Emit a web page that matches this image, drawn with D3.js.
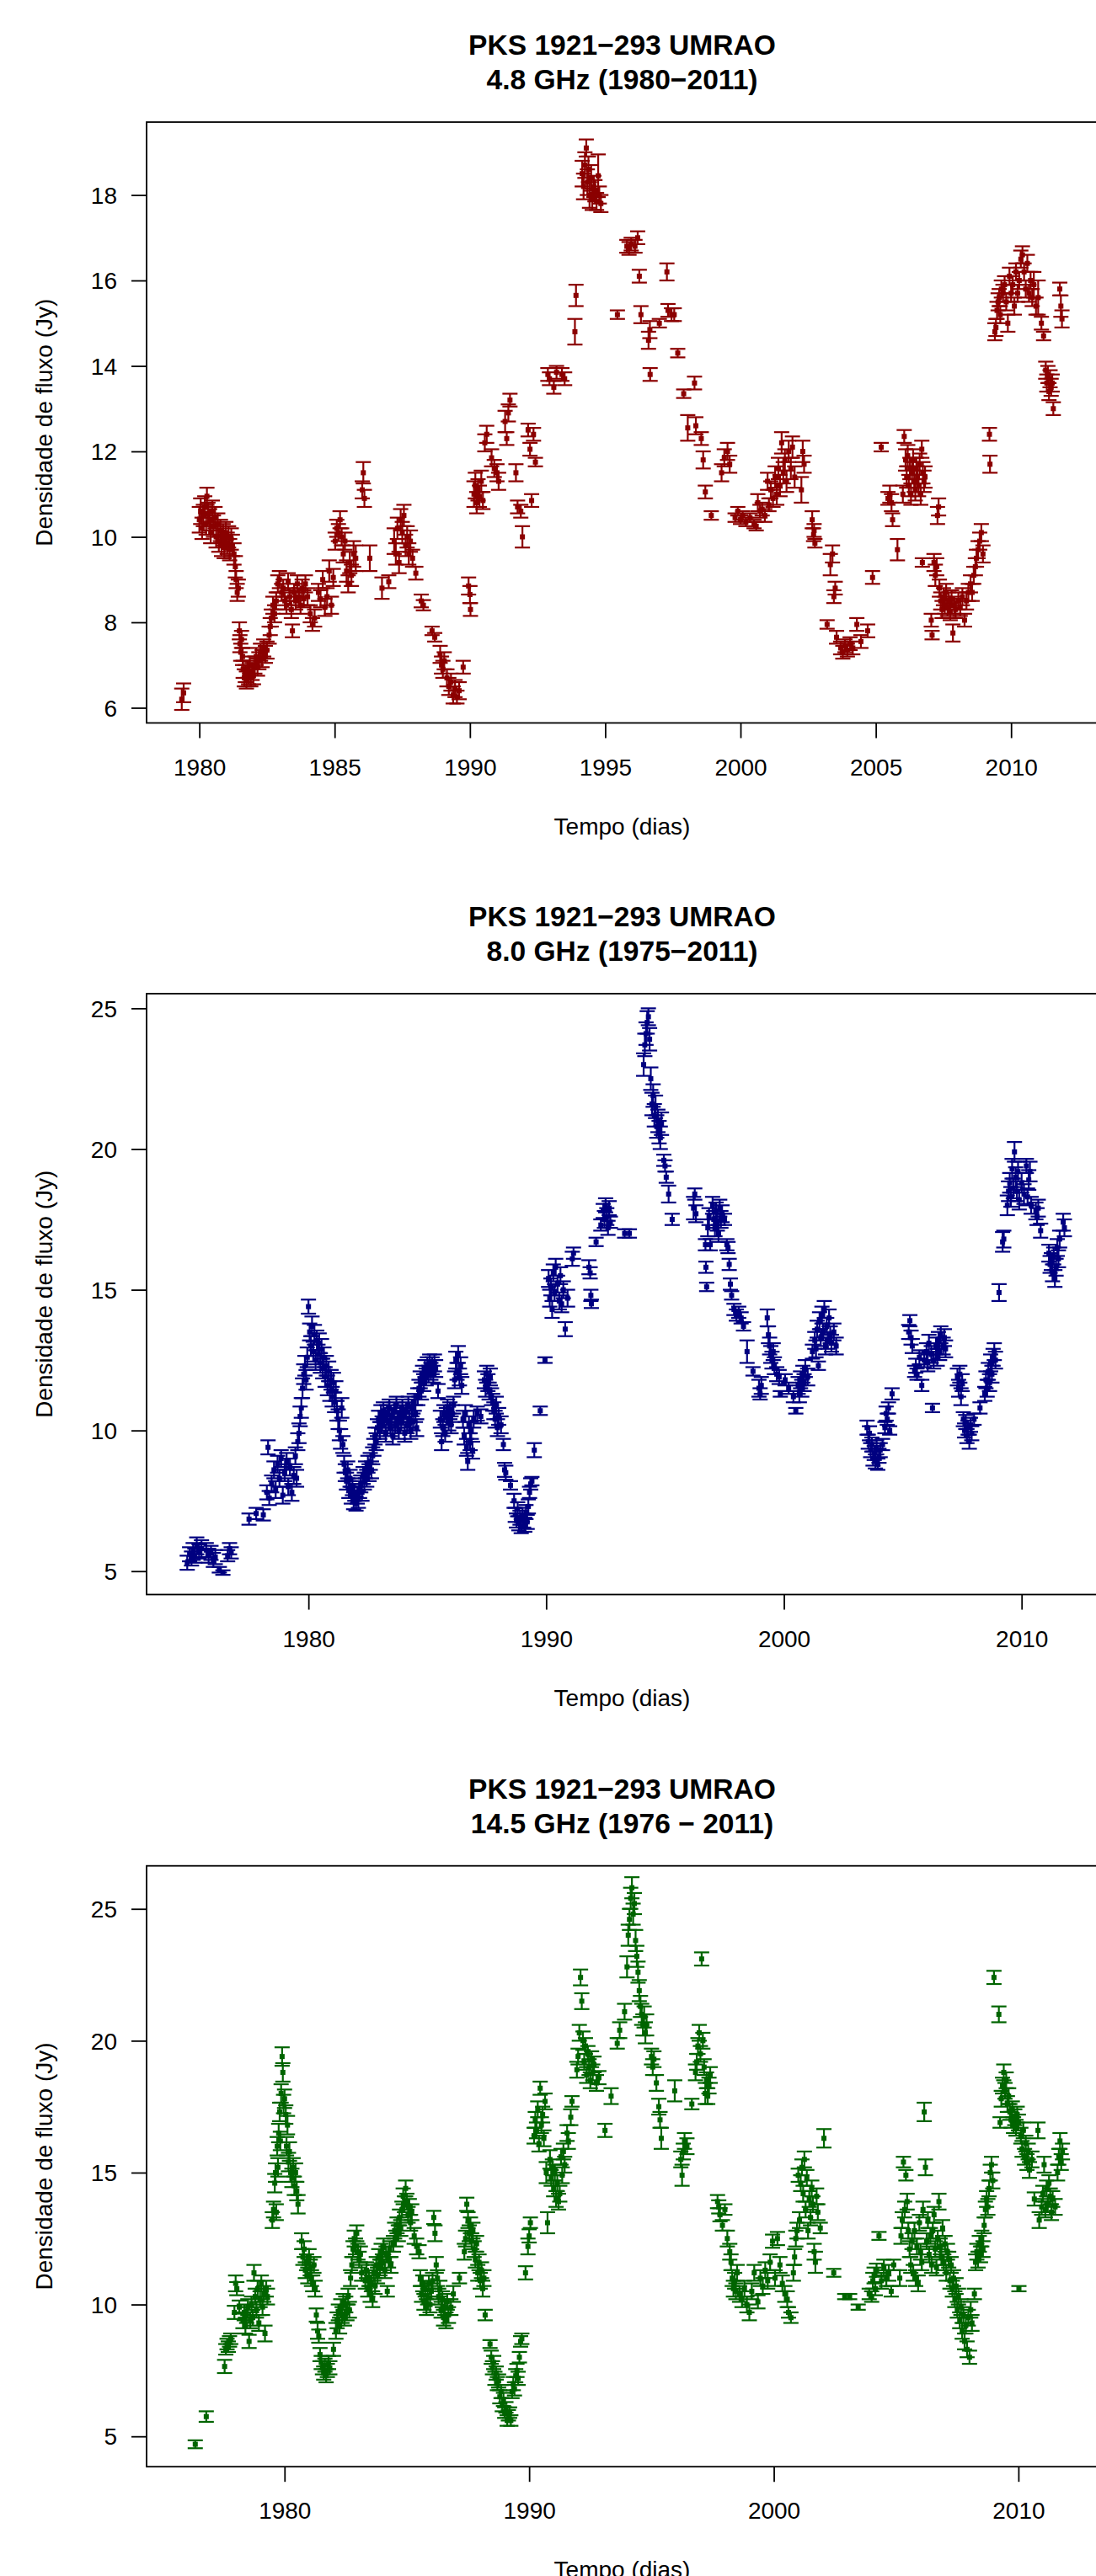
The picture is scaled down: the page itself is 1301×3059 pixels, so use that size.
<!DOCTYPE html>
<html>
<head>
<meta charset="utf-8">
<script src="https://cdn.jsdelivr.net/npm/d3@7/dist/d3.min.js"></script>
<style>
html,body{margin:0;padding:0;background:#fff;}
svg{display:block;}
text{font-family:"Liberation Sans",Arial,Helvetica,sans-serif;}
</style>
</head>
<body>
<svg id="chart" width="1301" height="3059"></svg>
<script>
// ---------- DATA: [year, flux density (Jy), error (Jy)] ----------
const flux48 = [
[1979.35,6.20,.25],[1979.42,6.35,.22],
[1980.00,10.40,.30],[1980.05,10.60,.30],[1980.10,10.20,.25],[1980.15,10.50,.25],[1980.20,10.70,.25],[1980.25,10.30,.25],[1980.28,10.95,.20],[1980.32,10.55,.25],[1980.38,10.40,.25],[1980.42,10.10,.25],[1980.48,10.60,.25],[1980.52,10.25,.25],[1980.58,10.45,.25],[1980.62,10.00,.25],[1980.68,10.30,.25],[1980.72,9.90,.25],[1980.78,10.15,.25],[1980.82,9.80,.25],[1980.88,10.05,.25],[1980.92,9.75,.25],[1980.98,10.10,.25],[1981.03,9.85,.25],[1981.08,10.00,.25],[1981.12,9.70,.25],[1981.18,9.95,.25],[1981.22,9.80,.25],[1981.28,9.60,.25],[1981.33,9.30,.25],[1981.36,9.00,.20],[1981.40,8.70,.20],[1981.44,8.80,.20],
[1981.48,7.80,.20],[1981.50,7.50,.20],[1981.53,7.30,.20],[1981.56,7.60,.20],[1981.60,7.20,.20],[1981.62,6.90,.20],[1981.66,6.70,.20],[1981.70,6.80,.20],[1981.74,6.65,.20],[1981.78,6.90,.20],[1981.82,6.75,.20],[1981.86,7.00,.20],[1981.90,6.70,.20],[1981.95,6.85,.20],[1982.00,6.75,.20],[1982.05,7.00,.20],[1982.10,7.20,.20],[1982.15,6.95,.20],[1982.20,7.10,.20],[1982.26,7.30,.20],[1982.32,7.15,.20],[1982.38,7.40,.20],[1982.44,7.25,.20],[1982.50,7.35,.20],
[1982.58,7.70,.20],[1982.62,7.90,.20],[1982.66,8.10,.20],[1982.72,8.40,.20],[1982.78,8.20,.20],[1982.84,8.50,.20],[1982.90,8.90,.20],[1982.96,9.00,.20],[1983.04,8.70,.20],[1983.10,8.80,.20],[1983.16,8.50,.20],[1983.22,8.40,.20],[1983.28,8.95,.20],[1983.34,8.60,.20],[1983.40,8.30,.20],[1983.44,7.80,.15],[1983.50,8.70,.20],[1983.56,8.50,.20],[1983.62,8.90,.20],[1983.68,8.60,.20],[1983.74,8.40,.20],[1983.80,8.80,.20],[1983.86,8.55,.20],[1983.92,8.90,.20],[1984.00,8.60,.20],[1984.10,8.20,.20],[1984.18,7.95,.15],[1984.26,8.10,.20],
[1984.40,8.70,.20],[1984.48,8.55,.20],[1984.56,9.00,.20],[1984.64,8.35,.20],[1984.72,8.60,.20],[1984.80,9.20,.25],[1984.88,8.40,.20],[1984.95,9.05,.20],[1985.02,9.90,.20],[1985.08,10.20,.20],[1985.14,10.10,.20],[1985.20,10.40,.20],[1985.26,10.00,.20],[1985.32,9.60,.20],[1985.38,9.90,.20],[1985.44,9.20,.25],[1985.50,8.90,.20],[1985.56,9.40,.25],[1985.62,9.10,.25],[1985.70,9.60,.30],[1985.78,9.50,.30],
[1986.02,11.10,.20],[1986.06,11.50,.25],[1986.10,10.90,.20],[1986.30,9.50,.30],[1986.75,8.80,.25],[1987.00,8.95,.15],
[1987.20,9.90,.30],[1987.26,9.60,.25],[1987.32,10.20,.25],[1987.38,9.40,.25],[1987.44,10.40,.25],[1987.50,10.10,.25],[1987.56,10.50,.25],[1987.62,9.80,.25],[1987.68,10.00,.25],[1987.74,9.60,.25],[1987.80,9.90,.25],[1987.88,9.50,.20],[1988.00,9.15,.15],[1988.20,8.50,.15],[1988.28,8.40,.12],[1988.60,7.80,.10],[1988.70,7.65,.10],
[1988.90,7.25,.20],[1988.95,7.00,.20],[1989.00,6.90,.20],[1989.05,7.10,.20],[1989.15,6.70,.20],[1989.22,6.50,.20],[1989.30,6.60,.20],[1989.38,6.30,.20],[1989.45,6.45,.20],[1989.52,6.25,.15],[1989.60,6.40,.20],[1989.75,6.95,.15],
[1989.95,8.85,.20],[1990.00,8.65,.20],[1990.02,8.30,.15],[1990.15,11.00,.30],[1990.20,11.20,.30],[1990.25,10.80,.25],[1990.30,11.10,.25],[1990.35,10.95,.25],[1990.42,11.30,.25],[1990.48,10.85,.20],[1990.55,12.20,.20],[1990.62,12.40,.20],[1990.80,11.85,.20],[1990.90,11.60,.20],[1991.00,11.50,.20],[1991.06,11.30,.20],
[1991.30,12.70,.25],[1991.36,12.30,.15],[1991.42,12.90,.20],[1991.48,13.20,.15],[1991.70,11.50,.20],[1991.76,10.70,.15],[1991.88,10.60,.15],[1991.94,10.00,.25],[1992.15,12.50,.15],[1992.22,12.05,.15],[1992.28,10.85,.15],[1992.35,12.40,.15],[1992.42,11.75,.10],
[1992.88,13.80,.15],[1992.94,13.70,.15],[1993.10,13.50,.15],[1993.20,13.85,.15],[1993.40,13.80,.15],[1993.50,13.70,.15],[1993.88,14.80,.30],[1993.92,15.65,.25],
[1994.15,18.50,.30],[1994.20,18.20,.30],[1994.25,18.70,.30],[1994.30,19.10,.20],[1994.34,18.30,.30],[1994.38,18.60,.30],[1994.42,18.00,.30],[1994.48,18.40,.30],[1994.52,17.90,.25],[1994.58,18.20,.25],[1994.62,18.10,.25],[1994.68,17.85,.20],[1994.74,18.45,.50],[1994.78,18.00,.20],[1994.84,17.80,.20],
[1995.45,15.20,.10],[1995.80,16.80,.15],[1995.88,16.75,.15],[1995.96,16.85,.15],[1996.10,16.80,.15],[1996.20,17.00,.15],[1996.26,16.10,.15],[1996.32,15.20,.20],[1996.60,14.60,.20],[1996.65,14.85,.20],[1996.66,13.80,.15],[1997.00,15.00,.10],[1997.28,16.20,.20],[1997.32,15.30,.15],[1997.45,15.20,.15],[1997.55,15.20,.15],[1997.68,14.30,.10],[1997.90,13.35,.10],
[1998.05,12.55,.30],[1998.30,13.60,.15],[1998.35,12.60,.20],[1998.55,12.30,.15],[1998.62,11.80,.20],[1998.70,11.05,.15],[1998.92,10.50,.10],[1999.30,11.50,.20],[1999.40,11.85,.20],[1999.52,12.00,.20],[1999.60,11.70,.20],
[1999.80,10.45,.10],[1999.90,10.60,.10],[2000.00,10.40,.10],[2000.08,10.50,.10],[2000.20,10.35,.10],[2000.35,10.45,.10],[2000.50,10.30,.10],[2000.58,10.25,.10],[2000.64,10.80,.20],[2000.72,10.60,.15],[2000.80,10.65,.15],[2000.90,10.50,.15],
[2001.00,11.30,.20],[2001.05,10.75,.15],[2001.12,11.10,.20],[2001.20,10.90,.20],[2001.28,11.40,.25],[2001.34,11.00,.25],[2001.40,11.60,.25],[2001.46,11.20,.25],[2001.52,12.20,.25],[2001.58,11.50,.25],[2001.64,11.80,.25],[2001.70,11.30,.25],[2001.78,12.00,.25],[2001.86,11.60,.25],[2001.92,12.10,.25],[2002.00,11.40,.25],[2002.25,11.10,.30],[2002.30,12.00,.25],[2002.35,11.70,.20],
[2002.65,10.40,.20],[2002.70,10.05,.15],[2002.75,9.85,.10],[2002.72,10.15,.15],[2003.20,7.95,.10],[2003.32,9.35,.25],[2003.40,9.60,.20],[2003.45,8.60,.15],[2003.50,8.80,.15],[2003.55,7.65,.15],[2003.70,7.40,.15],[2003.78,7.30,.15],[2003.86,7.45,.15],[2003.95,7.35,.15],[2004.05,7.50,.15],[2004.15,7.40,.15],[2004.30,7.95,.15],[2004.45,7.55,.15],[2004.70,7.80,.15],[2004.88,9.05,.15],
[2005.20,12.10,.10],[2005.45,10.90,.15],[2005.52,11.00,.20],[2005.58,10.80,.20],[2005.62,10.40,.15],[2005.80,9.70,.25],
[2006.00,11.00,.20],[2006.05,12.35,.15],[2006.10,11.80,.25],[2006.14,11.40,.25],[2006.18,11.90,.25],[2006.22,11.20,.25],[2006.26,11.60,.25],[2006.30,11.00,.25],[2006.34,11.50,.25],[2006.38,11.80,.25],[2006.42,11.30,.25],[2006.46,11.10,.25],[2006.50,11.60,.25],[2006.54,11.40,.25],[2006.58,11.20,.25],[2006.62,11.70,.25],[2006.66,11.00,.25],[2006.70,12.05,.20],[2006.74,11.50,.25],[2006.78,11.30,.25],[2006.82,11.40,.25],[2006.72,9.40,.10],
[2007.05,8.05,.15],[2007.08,7.70,.10],[2007.15,9.40,.20],[2007.20,9.10,.25],[2007.25,9.30,.20],[2007.28,10.50,.20],[2007.32,10.70,.20],[2007.35,8.80,.20],[2007.40,8.50,.20],[2007.45,8.30,.20],[2007.50,8.60,.20],[2007.55,8.40,.20],[2007.60,8.70,.20],[2007.65,8.35,.20],[2007.70,8.50,.20],[2007.75,8.25,.20],[2007.80,8.55,.20],[2007.85,7.75,.20],[2007.90,8.40,.20],[2007.95,8.30,.20],[2008.05,8.50,.20],[2008.12,8.35,.20],[2008.20,8.60,.20],[2008.28,8.05,.15],[2008.35,8.50,.20],[2008.42,8.70,.20],[2008.50,8.90,.20],[2008.56,8.70,.20],[2008.62,9.10,.20],[2008.68,9.30,.20],[2008.72,9.50,.20],[2008.78,9.70,.20],[2008.84,9.90,.20],[2008.90,10.10,.20],[2008.96,9.60,.20],
[2009.20,12.40,.15],[2009.22,11.70,.20],[2009.40,14.80,.20],[2009.44,14.90,.20],[2009.48,15.30,.20],[2009.52,15.50,.20],[2009.56,15.60,.20],[2009.60,15.20,.20],[2009.64,15.80,.20],[2009.70,15.70,.20],[2009.76,15.90,.20],[2009.82,15.50,.20],[2009.88,15.00,.20],[2009.94,16.10,.20],[2010.00,15.70,.20],[2010.06,15.90,.20],[2010.12,15.40,.20],[2010.18,16.20,.20],[2010.24,15.70,.20],[2010.30,16.00,.20],[2010.36,16.50,.20],[2010.42,16.60,.20],[2010.48,16.20,.20],[2010.54,15.80,.20],[2010.60,16.40,.20],[2010.66,15.70,.20],[2010.72,16.00,.20],[2010.78,15.60,.20],[2010.84,15.90,.30],[2010.92,15.40,.20],[2011.00,15.60,.40],
[2011.12,15.00,.15],[2011.20,14.70,.10],[2011.28,13.90,.20],[2011.32,13.60,.20],[2011.36,13.80,.20],[2011.40,13.40,.20],[2011.44,13.70,.20],[2011.48,13.50,.20],[2011.52,13.60,.20],[2011.56,13.00,.15],[2011.80,15.80,.15],[2011.84,15.40,.25],[2011.88,15.10,.20]
];

const flux80 = [
[1974.90,5.30,.25],[1975.00,5.60,.25],[1975.08,5.45,.25],[1975.15,5.70,.30],[1975.22,5.55,.25],[1975.30,5.90,.30],[1975.40,5.70,.25],[1975.50,5.80,.30],[1975.70,5.75,.25],[1975.80,5.55,.25],[1975.90,5.65,.25],[1976.00,5.40,.25],[1976.08,5.50,.25],[1976.25,5.05,.10],[1976.40,4.95,.08],[1976.60,5.55,.20],[1976.68,5.80,.20],[1976.75,5.65,.20],
[1977.50,6.85,.20],[1977.80,7.05,.20],[1978.10,7.00,.20],[1978.25,7.80,.25],[1978.30,9.40,.25],[1978.35,7.60,.25],[1978.45,8.10,.30],[1978.55,8.60,.30],[1978.62,7.90,.30],[1978.70,8.80,.30],[1978.78,8.30,.30],[1978.85,9.00,.30],[1978.92,7.70,.30],[1979.00,8.50,.30],[1979.08,8.90,.30],[1979.15,8.00,.30],[1979.22,8.70,.30],[1979.30,7.80,.30],[1979.38,8.40,.30],[1979.45,9.10,.30],[1979.50,8.30,.30],
[1979.55,9.60,.30],[1979.60,9.90,.35],[1979.65,10.50,.35],[1979.70,10.80,.35],[1979.75,11.50,.35],[1979.80,12.00,.35],[1979.85,12.30,.35],[1979.90,11.80,.35],[1979.95,12.60,.35],[1980.00,14.40,.25],[1980.05,13.50,.30],[1980.10,13.00,.35],[1980.15,13.70,.35],[1980.20,12.80,.35],[1980.25,13.40,.35],[1980.30,12.50,.35],[1980.35,13.20,.35],[1980.40,12.70,.35],[1980.45,13.10,.35],[1980.50,12.40,.35],[1980.55,12.90,.35],[1980.60,12.20,.35],[1980.65,12.60,.35],[1980.70,11.90,.35],[1980.75,12.30,.35],[1980.80,11.60,.35],[1980.85,12.10,.35],[1980.90,11.40,.35],[1980.95,11.80,.35],[1981.00,11.20,.35],[1981.05,11.70,.35],[1981.10,11.00,.35],[1981.15,11.40,.35],[1981.20,10.70,.35],[1981.25,10.40,.35],[1981.30,10.00,.35],[1981.35,9.70,.35],[1981.40,10.80,.35],[1981.45,9.50,.30],
[1981.50,8.80,.30],[1981.55,8.50,.30],[1981.60,8.20,.30],[1981.65,8.60,.30],[1981.70,7.90,.30],[1981.75,8.30,.30],[1981.80,7.70,.30],[1981.85,8.00,.30],[1981.90,7.50,.30],[1981.95,7.80,.30],[1982.00,7.40,.25],[1982.05,7.70,.30],[1982.10,7.55,.30],[1982.15,7.90,.30],[1982.20,8.10,.30],[1982.25,7.80,.30],[1982.30,8.40,.30],[1982.35,8.20,.30],[1982.40,8.60,.30],[1982.45,8.30,.30],[1982.50,8.80,.30],[1982.55,8.50,.30],[1982.60,8.90,.30],[1982.65,8.60,.30],[1982.70,9.10,.30],[1982.75,9.40,.30],[1982.80,9.80,.30],[1982.85,9.60,.30],[1982.90,10.10,.30],[1982.95,10.40,.30],
[1983.00,10.00,.30],[1983.05,10.60,.30],[1983.10,10.20,.30],[1983.15,10.70,.30],[1983.20,10.40,.30],[1983.25,9.90,.30],[1983.30,10.60,.30],[1983.35,10.30,.30],[1983.40,10.80,.30],[1983.45,10.10,.30],[1983.50,10.50,.30],[1983.55,9.80,.30],[1983.60,10.70,.30],[1983.65,10.20,.30],[1983.70,10.90,.30],[1983.75,10.40,.30],[1983.80,10.00,.30],[1983.85,10.60,.30],[1983.90,10.30,.30],[1983.95,10.80,.30],[1984.00,10.50,.30],[1984.05,9.90,.30],[1984.10,10.70,.30],[1984.15,10.20,.30],[1984.20,10.90,.30],[1984.25,10.40,.30],[1984.30,10.00,.30],[1984.35,10.80,.30],[1984.40,10.30,.30],[1984.45,11.00,.30],[1984.50,10.60,.30],[1984.55,10.10,.30],
[1984.60,11.20,.30],[1984.65,11.50,.30],[1984.70,11.80,.30],[1984.75,11.40,.30],[1984.80,12.00,.30],[1984.85,11.70,.30],[1984.90,12.20,.30],[1984.95,11.90,.30],[1985.00,12.30,.30],[1985.05,12.00,.30],[1985.10,12.40,.30],[1985.15,12.10,.30],[1985.20,12.30,.30],[1985.25,12.00,.30],[1985.30,12.40,.30],[1985.35,12.20,.30],[1985.45,11.40,.25],
[1985.55,10.40,.30],[1985.60,9.60,.30],[1985.65,10.10,.30],[1985.70,10.60,.30],[1985.75,9.90,.30],[1985.80,10.50,.30],[1985.85,10.80,.30],[1985.90,10.30,.30],[1985.95,10.70,.30],[1986.00,10.20,.30],[1986.05,10.60,.30],[1986.10,10.90,.30],[1986.15,11.80,.30],[1986.20,12.50,.30],[1986.25,12.10,.30],[1986.30,12.70,.30],[1986.35,11.90,.30],[1986.40,12.30,.30],[1986.45,11.60,.30],
[1986.50,10.40,.30],[1986.55,9.80,.30],[1986.60,10.60,.30],[1986.65,9.40,.30],[1986.70,8.90,.30],[1986.75,10.20,.30],[1986.80,9.60,.30],[1986.85,10.00,.30],[1986.90,9.30,.30],[1986.95,10.40,.30],[1987.10,10.60,.25],[1987.25,10.50,.25],
[1987.40,11.80,.30],[1987.45,11.50,.30],[1987.50,12.00,.30],[1987.55,11.70,.30],[1987.60,11.40,.30],[1987.65,11.90,.30],[1987.70,11.20,.30],[1987.75,11.00,.30],[1987.80,10.70,.30],[1987.85,10.40,.30],[1987.90,10.90,.30],[1987.95,10.10,.30],[1988.00,10.50,.30],[1988.10,10.20,.30],[1988.20,9.50,.20],[1988.25,8.60,.25],[1988.30,8.50,.25],[1988.50,8.05,.15],
[1988.65,7.50,.25],[1988.70,7.00,.25],[1988.75,6.80,.25],[1988.80,7.20,.25],[1988.85,6.70,.25],[1988.90,6.90,.25],[1988.95,6.60,.25],[1989.00,7.00,.25],[1989.05,6.80,.25],[1989.10,6.65,.25],[1989.15,7.10,.25],[1989.20,6.75,.25],[1989.25,7.30,.25],[1989.30,7.80,.20],[1989.35,8.10,.20],[1989.40,8.20,.15],[1989.50,9.30,.25],[1989.75,10.70,.15],[1989.95,12.50,.10],
[1990.10,15.40,.30],[1990.15,14.70,.30],[1990.20,15.10,.30],[1990.25,14.30,.30],[1990.30,15.60,.30],[1990.35,14.90,.30],[1990.40,15.80,.30],[1990.48,15.20,.30],[1990.55,14.60,.30],[1990.60,15.50,.30],[1990.65,14.50,.30],[1990.72,15.00,.30],[1990.80,13.60,.25],[1990.90,14.70,.30],[1991.10,16.10,.25],[1991.15,16.30,.20],[1991.80,15.80,.25],[1991.85,15.60,.20],[1991.88,14.80,.20],[1991.90,14.50,.15],
[1992.10,16.70,.15],[1992.30,17.30,.20],[1992.40,17.80,.25],[1992.45,17.50,.30],[1992.50,18.00,.25],[1992.55,17.60,.30],[1992.60,17.20,.25],[1992.65,17.90,.25],[1992.70,17.40,.20],[1993.30,17.00,.15],[1993.50,17.00,.15],
[1994.10,23.00,.40],[1994.15,23.70,.40],[1994.20,24.10,.40],[1994.25,24.50,.40],[1994.30,24.70,.30],[1994.35,23.90,.40],[1994.40,22.50,.40],[1994.45,21.60,.40],[1994.50,21.90,.40],[1994.55,21.20,.40],[1994.60,21.50,.40],[1994.65,20.80,.40],[1994.70,21.00,.40],[1994.75,20.60,.40],[1994.80,20.40,.40],[1994.85,20.90,.40],[1994.95,19.60,.20],[1995.00,19.40,.20],[1995.05,19.00,.20],[1995.15,18.40,.30],[1995.30,17.50,.20],
[1996.20,17.90,.40],[1996.25,18.40,.20],[1996.30,17.70,.30],[1996.70,16.60,.20],[1996.72,15.80,.20],[1996.75,15.10,.15],[1996.80,17.20,.30],[1996.85,17.60,.30],[1996.90,16.60,.20],[1997.00,18.00,.30],[1997.05,17.50,.30],[1997.10,17.20,.30],[1997.15,17.80,.30],[1997.20,17.40,.30],[1997.25,17.00,.30],[1997.30,17.90,.30],[1997.35,17.50,.30],[1997.40,17.70,.30],[1997.50,17.50,.20],[1997.60,16.60,.20],[1997.65,16.50,.20],[1997.70,15.90,.20],[1997.75,15.20,.20],[1997.80,14.80,.15],
[1997.90,14.30,.20],[1998.00,14.10,.20],[1998.10,14.20,.20],[1998.20,14.00,.20],[1998.30,13.70,.15],[1998.45,12.80,.40],[1998.70,12.10,.15],[1998.95,11.50,.30],[1999.00,11.30,.20],[1999.05,11.60,.30],[1999.30,14.00,.30],[1999.35,13.40,.30],[1999.40,13.00,.30],[1999.45,12.70,.30],[1999.50,12.50,.30],[1999.55,12.80,.30],[1999.60,12.30,.30],[1999.70,12.00,.25],[1999.80,11.90,.25],[1999.85,11.30,.10],
[2000.05,11.80,.20],[2000.20,11.50,.20],[2000.40,11.20,.20],[2000.50,10.70,.10],[2000.60,11.60,.30],[2000.65,11.30,.30],[2000.70,11.80,.30],[2000.75,11.50,.30],[2000.80,12.00,.30],[2000.85,11.70,.30],[2000.90,12.20,.30],[2001.00,11.90,.30],[2001.20,12.80,.25],[2001.30,13.20,.30],[2001.35,12.90,.30],[2001.40,13.60,.30],[2001.45,12.30,.15],[2001.50,13.90,.30],[2001.55,13.30,.30],[2001.60,14.10,.30],[2001.65,13.50,.30],[2001.70,14.30,.30],[2001.75,13.00,.30],[2001.80,13.70,.30],[2001.85,13.20,.30],[2001.90,14.00,.30],[2001.95,13.40,.30],[2002.00,13.10,.30],[2002.10,13.50,.30],[2002.20,13.00,.30],
[2003.50,10.10,.25],[2003.55,9.60,.25],[2003.60,9.90,.25],[2003.65,9.30,.25],[2003.70,9.50,.25],[2003.75,9.00,.25],[2003.80,9.20,.25],[2003.85,8.90,.25],[2003.90,9.40,.25],[2003.95,8.80,.20],[2004.00,9.10,.25],[2004.05,9.30,.25],[2004.15,9.50,.20],[2004.25,10.10,.20],[2004.30,10.60,.25],[2004.35,10.40,.20],[2004.40,10.80,.20],[2004.45,10.00,.15],[2004.55,11.30,.20],
[2005.25,13.50,.25],[2005.30,13.90,.20],[2005.35,13.30,.25],[2005.40,13.00,.25],[2005.50,12.10,.20],[2005.55,12.30,.25],[2005.60,12.00,.20],[2005.70,12.60,.25],[2005.80,11.60,.20],[2005.90,12.50,.25],[2006.00,12.80,.30],[2006.05,12.40,.30],[2006.10,13.10,.30],[2006.20,12.70,.30],[2006.25,10.80,.15],[2006.30,12.50,.30],[2006.40,13.00,.30],[2006.45,12.60,.30],[2006.50,13.20,.30],[2006.55,12.80,.30],[2006.60,13.40,.30],[2006.70,13.00,.30],[2006.75,13.30,.30],[2006.80,12.90,.30],
[2007.30,11.90,.30],[2007.35,11.50,.30],[2007.40,12.00,.30],[2007.45,11.20,.30],[2007.50,11.70,.30],[2007.55,10.40,.25],[2007.60,10.00,.25],[2007.65,10.30,.25],[2007.70,9.80,.25],[2007.75,10.10,.25],[2007.80,9.60,.25],[2007.85,10.20,.25],[2007.90,9.90,.25],[2008.00,10.40,.20],[2008.25,10.80,.20],[2008.45,11.30,.25],[2008.50,11.80,.30],[2008.55,11.50,.30],[2008.60,12.10,.30],[2008.65,11.70,.30],[2008.70,12.40,.30],[2008.75,12.00,.30],[2008.80,12.60,.30],[2008.85,12.80,.30],[2008.90,12.50,.30],
[2009.05,14.90,.30],[2009.20,16.70,.35],[2009.25,16.80,.30],[2009.40,18.00,.35],[2009.45,18.50,.35],[2009.50,18.80,.35],[2009.55,18.30,.35],[2009.60,19.30,.35],[2009.65,18.60,.35],[2009.70,19.90,.35],[2009.75,19.00,.35],[2009.80,18.50,.35],[2009.85,19.20,.35],[2009.90,18.20,.35],[2010.00,18.80,.35],[2010.10,18.40,.35],[2010.20,19.40,.25],[2010.25,18.30,.30],[2010.30,18.90,.35],[2010.35,19.20,.35],[2010.40,18.00,.30],[2010.60,17.80,.30],[2010.65,17.60,.30],[2010.70,17.90,.30],[2010.80,17.10,.25],
[2011.15,16.30,.30],[2011.20,15.90,.30],[2011.25,16.00,.30],[2011.30,15.60,.30],[2011.35,16.20,.30],[2011.40,15.40,.30],[2011.45,15.80,.30],[2011.50,16.50,.30],[2011.55,16.10,.30],[2011.60,16.80,.30],[2011.75,17.40,.30],[2011.80,17.20,.30]
];

const flux145 = [
[1976.35,4.70,.15],[1976.80,5.75,.20],[1977.55,7.65,.25],[1977.60,8.30,.20],[1977.65,8.50,.20],[1977.70,8.40,.20],[1977.75,8.60,.20],[1977.80,8.70,.20],[1977.95,9.70,.25],[1978.00,10.80,.30],[1978.05,10.60,.25],[1978.15,9.90,.25],
[1978.30,9.40,.30],[1978.35,9.70,.30],[1978.40,9.20,.30],[1978.45,9.60,.30],[1978.50,9.90,.30],[1978.55,8.60,.25],[1978.60,9.40,.30],[1978.65,10.00,.30],[1978.70,9.50,.30],[1978.75,11.20,.30],[1978.80,10.30,.30],[1978.85,9.80,.30],[1978.90,10.60,.30],[1978.95,9.30,.30],[1979.00,10.20,.30],[1979.05,10.80,.30],[1979.10,9.90,.30],[1979.15,10.40,.30],[1979.20,8.90,.30],[1979.25,10.60,.30],[1979.30,10.30,.30],
[1979.50,13.20,.30],[1979.55,13.60,.30],[1979.60,14.60,.35],[1979.63,15.00,.35],[1979.66,13.50,.30],[1979.70,16.00,.35],[1979.73,15.20,.35],[1979.76,16.50,.35],[1979.80,17.30,.35],[1979.83,16.20,.35],[1979.86,18.00,.35],[1979.90,19.40,.35],[1979.93,18.80,.35],[1979.96,17.60,.35],[1980.00,17.80,.35],[1980.05,17.20,.35],[1980.08,16.00,.35],[1980.12,16.80,.35],[1980.16,15.40,.35],[1980.20,15.80,.35],[1980.25,15.00,.35],[1980.30,14.80,.35],[1980.35,15.20,.35],[1980.40,14.50,.35],[1980.45,15.00,.35],[1980.50,14.30,.35],[1980.55,13.80,.35],
[1980.70,12.40,.30],[1980.75,11.80,.30],[1980.80,12.10,.30],[1980.85,11.30,.30],[1980.90,11.60,.30],[1980.95,11.10,.30],[1981.00,11.80,.30],[1981.05,11.40,.30],[1981.10,11.00,.30],[1981.15,10.80,.30],[1981.20,11.50,.30],[1981.25,10.60,.30],[1981.30,9.60,.25],[1981.35,9.00,.30],[1981.40,8.80,.25],[1981.45,8.10,.25],[1981.50,7.80,.25],[1981.55,7.60,.25],[1981.60,7.40,.25],[1981.65,7.70,.25],[1981.70,7.30,.25],[1981.75,7.50,.25],[1981.80,7.80,.25],[1981.85,7.60,.25],[1982.00,8.30,.25],
[1982.10,9.00,.30],[1982.15,9.40,.30],[1982.20,9.70,.30],[1982.25,9.20,.30],[1982.30,9.90,.30],[1982.35,9.60,.30],[1982.40,10.10,.30],[1982.45,9.50,.30],[1982.50,10.00,.30],[1982.55,9.70,.30],[1982.60,10.30,.30],[1982.65,9.80,.30],[1982.70,11.00,.30],[1982.75,11.50,.30],[1982.80,12.10,.30],[1982.85,12.50,.30],[1982.90,12.20,.30],[1982.95,12.70,.30],[1983.00,12.00,.30],[1983.05,11.70,.30],[1983.10,11.90,.30],[1983.15,11.20,.30],
[1983.30,10.90,.30],[1983.35,11.30,.30],[1983.40,10.60,.30],[1983.45,11.00,.30],[1983.50,10.40,.30],[1983.55,10.80,.30],[1983.60,10.20,.30],[1983.65,11.20,.30],[1983.70,10.70,.30],[1983.75,11.50,.30],[1983.80,11.10,.30],[1983.85,11.80,.30],[1983.90,11.40,.30],[1983.95,12.00,.30],[1984.00,11.60,.30],[1984.05,12.20,.30],[1984.10,11.30,.30],[1984.15,11.90,.30],[1984.20,10.50,.20],[1984.25,11.70,.30],[1984.30,12.10,.30],[1984.35,11.50,.30],
[1984.45,12.30,.30],[1984.50,12.80,.30],[1984.55,12.50,.30],[1984.60,13.00,.30],[1984.65,12.70,.30],[1984.70,13.30,.30],[1984.75,12.90,.30],[1984.80,13.60,.30],[1984.85,14.10,.30],[1984.90,13.80,.30],[1984.95,14.40,.30],[1985.00,13.90,.30],[1985.05,13.40,.30],[1985.10,13.70,.30],[1985.15,13.10,.30],[1985.20,13.50,.30],[1985.30,12.60,.30],[1985.40,12.20,.30],[1985.50,12.00,.25],
[1985.55,11.00,.30],[1985.60,10.40,.30],[1985.65,10.80,.30],[1985.70,10.10,.30],[1985.75,10.60,.30],[1985.80,9.90,.30],[1985.85,10.30,.30],[1985.90,10.80,.30],[1985.95,10.00,.30],[1986.00,10.50,.30],[1986.05,10.90,.30],[1986.10,13.30,.25],[1986.15,12.70,.30],[1986.20,11.50,.30],[1986.25,11.00,.30],[1986.30,10.30,.30],[1986.35,10.60,.30],[1986.40,9.80,.30],[1986.45,10.20,.30],[1986.50,9.50,.30],[1986.55,9.90,.30],[1986.60,9.40,.30],[1986.65,10.10,.30],[1986.70,9.60,.30],[1986.80,9.90,.30],[1986.90,10.40,.30],
[1987.15,11.00,.20],[1987.35,12.00,.30],[1987.40,12.50,.30],[1987.45,13.80,.25],[1987.50,13.20,.30],[1987.55,12.70,.30],[1987.60,13.00,.30],[1987.65,12.40,.30],[1987.70,12.80,.30],[1987.75,12.10,.30],[1987.80,11.70,.30],[1987.85,12.30,.30],[1987.90,11.20,.30],[1987.95,11.60,.30],[1988.00,10.90,.30],[1988.05,11.30,.30],[1988.10,10.60,.30],[1988.15,11.00,.30],[1988.20,9.60,.20],
[1988.40,8.50,.15],[1988.45,8.00,.25],[1988.50,7.60,.25],[1988.55,7.80,.25],[1988.60,7.20,.25],[1988.65,7.40,.25],[1988.70,7.00,.25],[1988.75,7.10,.25],[1988.80,6.50,.25],[1988.85,6.70,.25],[1988.90,6.20,.25],[1988.95,6.40,.25],[1989.00,5.90,.20],[1989.05,6.10,.20],[1989.10,5.60,.20],[1989.15,5.80,.20],[1989.20,5.90,.20],[1989.25,5.60,.20],[1989.30,6.70,.25],[1989.35,7.00,.25],[1989.40,6.80,.25],[1989.45,7.30,.25],[1989.50,7.50,.25],[1989.55,7.20,.25],[1989.60,8.00,.20],[1989.65,8.60,.20],[1989.70,8.70,.20],
[1989.85,11.20,.25],[1989.95,12.20,.30],[1990.00,12.60,.25],[1990.05,13.10,.20],[1990.20,16.40,.30],[1990.25,17.00,.30],[1990.30,16.60,.30],[1990.35,17.40,.30],[1990.40,16.10,.30],[1990.45,18.20,.25],[1990.50,16.80,.30],[1990.55,17.20,.30],[1990.60,16.30,.30],[1990.65,17.70,.30],[1990.70,15.00,.40],[1990.75,13.10,.40],
[1990.85,15.50,.35],[1990.90,14.80,.30],[1990.95,15.20,.30],[1991.00,14.40,.30],[1991.05,15.00,.30],[1991.10,14.00,.30],[1991.15,14.60,.30],[1991.20,13.90,.30],[1991.25,14.20,.30],[1991.30,15.60,.30],[1991.35,14.90,.30],[1991.40,15.80,.30],[1991.45,15.30,.30],[1991.55,16.50,.30],[1991.60,16.20,.30],[1991.70,17.10,.30],[1991.75,17.70,.20],
[1991.95,18.90,.30],[1992.00,19.40,.30],[1992.05,20.30,.30],[1992.10,22.40,.30],[1992.15,21.50,.30],[1992.20,20.00,.35],[1992.25,19.20,.30],[1992.30,19.80,.30],[1992.35,18.70,.30],[1992.40,19.50,.30],[1992.45,19.00,.30],[1992.50,18.50,.30],[1992.55,19.30,.30],[1992.60,18.80,.30],[1992.65,19.10,.30],[1992.75,18.40,.30],[1992.85,18.60,.25],[1993.10,16.60,.25],[1993.35,17.90,.30],[1993.60,19.90,.20],[1993.70,20.40,.30],[1993.90,21.10,.30],
[1994.00,22.80,.40],[1994.05,24.00,.40],[1994.10,24.60,.40],[1994.15,25.40,.40],[1994.20,25.80,.40],[1994.25,24.80,.40],[1994.30,25.20,.40],[1994.35,23.80,.40],[1994.40,23.20,.40],[1994.45,22.60,.40],[1994.50,21.90,.40],[1994.55,21.30,.40],[1994.60,21.00,.40],[1994.65,20.60,.40],[1994.70,20.90,.40],[1994.75,20.30,.40],[1994.80,20.60,.40],
[1995.00,19.40,.30],[1995.05,19.00,.30],[1995.10,19.30,.30],[1995.20,18.40,.30],[1995.30,17.50,.30],[1995.35,17.00,.30],[1995.40,16.30,.40],[1995.95,18.10,.40],[1996.20,15.50,.30],[1996.25,14.90,.40],[1996.30,15.80,.30],[1996.35,16.20,.30],[1996.45,16.00,.30],[1996.65,17.60,.20],
[1996.80,18.80,.30],[1996.85,19.20,.30],[1996.90,19.80,.30],[1996.95,20.30,.30],[1997.00,19.50,.30],[1997.05,23.10,.25],[1997.10,20.00,.30],[1997.15,19.00,.30],[1997.20,18.00,.40],[1997.25,18.50,.30],[1997.30,17.90,.30],[1997.35,18.30,.30],[1997.40,18.70,.30],
[1997.70,13.90,.25],[1997.75,13.70,.25],[1997.80,13.40,.25],[1997.90,13.00,.20],[1998.00,13.60,.20],[1998.10,12.50,.30],[1998.20,12.00,.30],[1998.25,11.60,.30],[1998.30,11.00,.30],[1998.35,10.60,.30],[1998.40,10.90,.30],[1998.45,10.50,.30],[1998.50,11.20,.30],[1998.60,10.40,.30],[1998.70,10.20,.30],[1998.80,10.60,.30],[1998.90,10.00,.30],[1999.00,9.70,.30],[1999.10,10.50,.30],[1999.20,11.20,.30],[1999.35,10.10,.25],[1999.45,11.00,.30],[1999.55,10.70,.30],[1999.65,11.30,.30],[1999.75,10.90,.30],[1999.85,11.60,.30],[1999.95,12.40,.25],
[2000.05,11.00,.30],[2000.15,12.50,.25],[2000.25,11.50,.30],[2000.35,10.80,.30],[2000.45,10.40,.30],[2000.55,10.20,.30],[2000.60,9.70,.20],[2000.70,9.50,.20],[2000.80,11.20,.30],[2000.85,11.80,.30],[2000.90,12.50,.30],[2000.95,12.80,.30],
[2001.00,14.90,.25],[2001.05,13.20,.30],[2001.10,14.60,.30],[2001.15,15.20,.30],[2001.20,14.20,.30],[2001.25,15.50,.30],[2001.30,13.60,.30],[2001.35,14.80,.30],[2001.40,12.80,.30],[2001.45,14.00,.30],[2001.50,13.30,.30],[2001.55,14.40,.30],[2001.60,13.80,.30],[2001.65,12.00,.30],[2001.70,11.60,.40],[2001.75,14.10,.30],[2001.80,13.50,.30],[2001.90,12.90,.20],[2002.05,16.30,.35],
[2002.45,11.20,.15],[2002.90,10.30,.10],[2003.10,10.30,.10],[2003.45,9.90,.10],[2003.90,10.40,.20],[2004.00,10.30,.20],[2004.05,10.90,.30],[2004.10,11.10,.30],[2004.15,10.60,.25],[2004.20,11.30,.25],[2004.30,12.60,.15],[2004.40,10.90,.30],[2004.50,11.40,.30],[2004.60,11.00,.30],[2004.70,11.20,.30],[2004.80,10.50,.20],[2004.90,11.50,.20],
[2005.15,11.00,.30],[2005.20,12.60,.30],[2005.25,13.20,.30],[2005.30,15.40,.20],[2005.35,13.60,.30],[2005.40,14.90,.20],[2005.45,13.90,.30],[2005.50,12.80,.30],[2005.55,12.10,.30],[2005.60,11.50,.30],[2005.65,12.40,.30],[2005.70,11.20,.30],[2005.75,12.80,.30],[2005.80,11.00,.30],[2005.85,12.20,.30],[2005.90,10.80,.30],[2005.95,13.10,.30],[2006.00,12.00,.30],[2006.05,11.60,.30],[2006.10,13.60,.30],[2006.15,17.30,.35],[2006.20,15.20,.30],
[2006.25,12.40,.30],[2006.30,13.20,.30],[2006.35,11.90,.30],[2006.40,12.60,.30],[2006.45,11.50,.30],[2006.50,12.80,.30],[2006.55,13.40,.30],[2006.60,12.10,.30],[2006.65,11.40,.30],[2006.70,12.50,.30],[2006.75,13.90,.30],[2006.80,12.20,.30],[2006.85,11.80,.30],[2006.90,12.90,.30],[2006.95,11.60,.30],[2007.00,12.30,.30],[2007.05,11.20,.30],[2007.10,12.00,.30],[2007.15,11.70,.30],
[2007.20,10.90,.30],[2007.25,11.50,.30],[2007.30,10.60,.30],[2007.35,11.00,.30],[2007.40,10.20,.30],[2007.45,10.70,.30],[2007.50,9.80,.30],[2007.55,10.30,.30],[2007.60,9.40,.30],[2007.65,9.90,.30],[2007.70,9.00,.30],[2007.75,9.60,.30],[2007.80,8.60,.30],[2007.85,9.20,.30],[2007.90,8.30,.30],[2007.95,9.50,.30],[2008.00,8.00,.25],[2008.05,9.80,.30],[2008.10,9.30,.30],
[2008.20,10.40,.20],[2008.25,11.60,.30],[2008.30,12.00,.30],[2008.35,11.70,.30],[2008.40,12.30,.30],[2008.45,11.90,.30],[2008.50,12.50,.30],[2008.55,12.10,.30],[2008.60,13.00,.30],[2008.65,13.60,.30],[2008.70,14.00,.30],[2008.75,13.70,.30],[2008.80,14.40,.30],[2008.85,15.00,.30],[2008.90,15.30,.30],[2008.95,14.70,.30],
[2009.00,22.40,.25],[2009.20,21.00,.30],[2009.25,16.90,.20],[2009.30,17.80,.30],[2009.35,18.30,.30],[2009.40,18.80,.30],[2009.45,18.10,.30],[2009.50,18.50,.30],[2009.55,17.60,.30],[2009.60,17.90,.30],[2009.65,17.30,.30],[2009.70,17.00,.30],[2009.75,17.40,.30],[2009.80,16.80,.30],[2009.85,17.10,.30],[2009.90,16.70,.30],[2009.95,17.20,.30],[2010.00,16.90,.30],[2010.02,10.60,.10],
[2010.10,16.40,.30],[2010.15,15.90,.30],[2010.20,16.60,.30],[2010.25,15.60,.30],[2010.30,16.10,.30],[2010.35,15.40,.30],[2010.40,15.80,.30],[2010.45,15.10,.30],[2010.55,15.50,.30],[2010.65,14.00,.25],[2010.80,16.60,.30],[2010.85,13.20,.30],[2010.95,13.70,.30],[2011.00,14.20,.30],[2011.05,15.30,.30],[2011.10,13.60,.30],[2011.15,14.40,.30],[2011.20,13.80,.30],[2011.25,14.60,.30],[2011.30,14.10,.30],[2011.35,13.50,.30],[2011.40,14.00,.30],[2011.50,13.70,.30],[2011.60,15.00,.30],[2011.65,15.60,.30],[2011.70,16.20,.30],[2011.75,15.40,.30],[2011.80,15.80,.30]
];

// axis limits and tick labels
const xlim48 = [1978.05, 2013.2],  ylim48 = [5.645, 19.706];
const xlim80 = [1973.19, 2013.2],  ylim80 = [4.17, 25.52];
const xlim145 = [1974.36, 2013.24], ylim145 = [3.85, 26.63];
const xticks48 = [1980, 1985, 1990, 1995, 2000, 2005, 2010];
const yticks48 = [6, 8, 10, 12, 14, 16, 18];
const xticks80 = [1980, 1990, 2000, 2010];
const yticks80 = [5, 10, 15, 20, 25];
const xticks145 = [1980, 1990, 2000, 2010];
const yticks145 = [5, 10, 15, 20, 25];
const titles48 = ["PKS 1921\u2212293 UMRAO", "4.8 GHz (1980\u22122011)"];
const titles80 = ["PKS 1921\u2212293 UMRAO", "8.0 GHz (1975\u22122011)"];
const titles145 = ["PKS 1921\u2212293 UMRAO", "14.5 GHz (1976 \u2212 2011)"];
const xLabel = "Tempo (dias)";
const yLabel = "Densidade de fluxo (Jy)";

// ---------- DRAWING ----------
const svg = d3.select("#chart");
const L = 174, R = 1303, H = 713.5;
const panels = [
  {data: flux48, color: "#8B0000", xlim: xlim48, ylim: ylim48, xt: xticks48, yt: yticks48, title: titles48, top: 145},
  {data: flux80, color: "#000080", xlim: xlim80, ylim: ylim80, xt: xticks80, yt: yticks80, title: titles80, top: 1180},
  {data: flux145, color: "#006400", xlim: xlim145, ylim: ylim145, xt: xticks145, yt: yticks145, title: titles145, top: 2215.7}
];

panels.forEach(p => {
  const top = p.top, bottom = top + H;
  const x = d3.scaleLinear().domain(p.xlim).range([L, R]);
  const y = d3.scaleLinear().domain(p.ylim).range([bottom, top]);
  const g = svg.append("g");
  const cx = (L + R) / 2;

  // title
  g.append("text").attr("x", cx).attr("y", top - 80).attr("text-anchor", "middle")
    .attr("font-size", 33.6).attr("font-weight", "bold").text(p.title[0]);
  g.append("text").attr("x", cx).attr("y", top - 39).attr("text-anchor", "middle")
    .attr("font-size", 33.6).attr("font-weight", "bold").text(p.title[1]);

  // data: error bars
  const eb = g.append("g").attr("stroke", p.color).attr("stroke-width", 2.2).attr("fill", "none");
  p.data.forEach(d => {
    const px = x(d[0]), y1 = y(d[1] - d[2]), y2 = y(d[1] + d[2]);
    eb.append("line").attr("x1", px).attr("x2", px).attr("y1", y1).attr("y2", y2);
    eb.append("line").attr("x1", px - 9).attr("x2", px + 9).attr("y1", y1).attr("y2", y1);
    eb.append("line").attr("x1", px - 9).attr("x2", px + 9).attr("y1", y2).attr("y2", y2);
  });
  g.append("g").selectAll("rect").data(p.data).join("rect")
    .attr("x", d => x(d[0]) - 3).attr("y", d => y(d[1]) - 3)
    .attr("width", 6).attr("height", 6).attr("fill", p.color);

  // box
  g.append("rect").attr("x", L).attr("y", top).attr("width", R - L).attr("height", H)
    .attr("fill", "none").attr("stroke", "#000").attr("stroke-width", 1.8);

  // x axis
  const xa = d3.axisBottom(x).tickValues(p.xt).tickFormat(d3.format("d")).tickSize(18).tickPadding(0);
  const gx = g.append("g").attr("transform", `translate(0,${bottom})`).call(xa);
  gx.select(".domain").remove();
  gx.selectAll("line").attr("stroke", "#000").attr("stroke-width", 1.8);
  gx.selectAll("text").attr("font-size", 28).attr("fill", "#000").attr("dy", null).attr("y", 62)
    .attr("font-family", '"Liberation Sans",Arial,sans-serif');

  // y axis
  const ya = d3.axisLeft(y).tickValues(p.yt).tickFormat(d3.format("d")).tickSize(18).tickPadding(17);
  const gy = g.append("g").attr("transform", `translate(${L},0)`).call(ya);
  gy.select(".domain").remove();
  gy.selectAll("line").attr("stroke", "#000").attr("stroke-width", 1.8);
  gy.selectAll("text").attr("font-size", 28).attr("fill", "#000").attr("dy", "0.35em")
    .attr("font-family", '"Liberation Sans",Arial,sans-serif');

  // axis titles
  g.append("text").attr("x", cx).attr("y", bottom + 132).attr("text-anchor", "middle")
    .attr("font-size", 28).text(xLabel);
  g.append("text").attr("transform", `translate(62,${(top + bottom) / 2}) rotate(-90)`)
    .attr("text-anchor", "middle").attr("font-size", 28).text(yLabel);
});
</script>
</body>
</html>
